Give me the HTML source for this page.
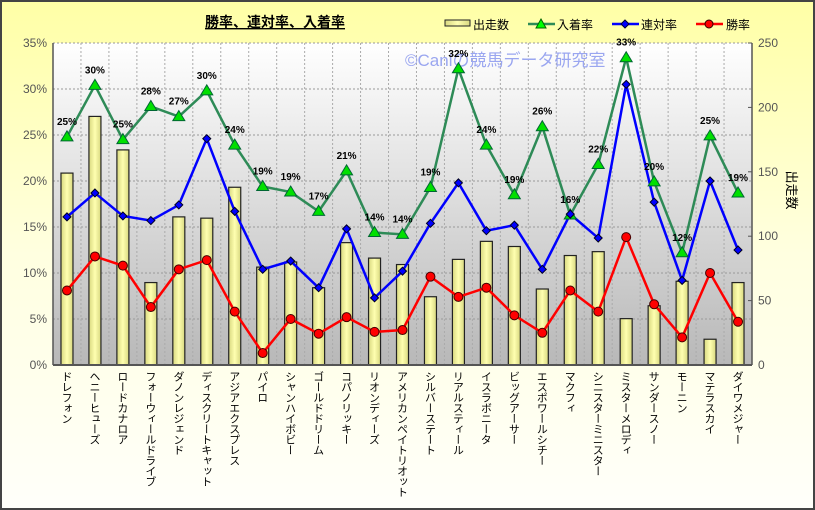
<!DOCTYPE html>
<html><head><meta charset="utf-8">
<style>
body{margin:0;width:815px;height:510px;overflow:hidden;position:relative;font-family:"Liberation Sans","Noto Sans CJK JP",sans-serif;}
svg text{font-family:"Liberation Sans","Noto Sans CJK JP",sans-serif;}
.cat{position:absolute;top:371px;writing-mode:vertical-rl;text-orientation:upright;font-size:11px;line-height:12px;letter-spacing:-0.5px;font-family:"Noto Sans CJK JP",sans-serif;color:#000;white-space:nowrap;}
</style></head>
<body>
<svg id="chart" width="815" height="510" xmlns="http://www.w3.org/2000/svg" style="position:absolute;left:0;top:0">
<defs>
<linearGradient id="bg" x1="0" y1="0" x2="0" y2="1"><stop offset="0" stop-color="#ffffa6"/><stop offset="0.5" stop-color="#ffffe0"/><stop offset="1" stop-color="#fffffa"/></linearGradient>
<linearGradient id="pl" x1="0" y1="0" x2="0" y2="1"><stop offset="0" stop-color="#ffffff"/><stop offset="1" stop-color="#b8b8b8"/></linearGradient>
<linearGradient id="bar" x1="0" y1="0" x2="1" y2="0"><stop offset="0" stop-color="#d8d880"/><stop offset="0.5" stop-color="#ffffb0"/><stop offset="1" stop-color="#d8d880"/></linearGradient>
</defs>
<rect x="1" y="1" width="813" height="508" fill="url(#bg)" stroke="#444" stroke-width="2"/>
<rect x="53" y="43" width="699" height="322" fill="url(#pl)"/>
<g id="grid"></g>
<text x="405" y="66" font-size="17" fill="#9aa6f0">©Caniの競馬データ研究室</text>
<g id="bars"></g><g id="lines"></g><g id="axes"></g>
<text x="275" y="27" font-size="14" font-weight="bold" text-anchor="middle" text-decoration="underline">勝率、連対率、入着率</text>
<g font-size="12">
<g><rect x="445" y="20" width="25" height="6" fill="url(#bar)" stroke="#222"/><text x="473" y="29">出走数</text></g>
<g><line x1="528" y1="24" x2="555" y2="24" stroke="#2e8b57" stroke-width="2.5"/><polygon points="541,19 546,28 536,28" fill="#0f0" stroke="#060"/><text x="557" y="29">入着率</text></g>
<g><line x1="612" y1="24" x2="639" y2="24" stroke="#00f" stroke-width="2.5"/><polygon points="625,20 629,24 625,28 621,24" fill="#00f" stroke="#003"/><text x="641" y="29">連対率</text></g>
<g><line x1="696" y1="24" x2="723" y2="24" stroke="#f00" stroke-width="2.5"/><circle cx="709" cy="24" r="4" fill="#f00" stroke="#300"/><text x="726" y="29">勝率</text></g>
</g>
<text transform="translate(787,190) rotate(90)" font-size="13" text-anchor="middle">出走数</text>
</svg>
<div id="cats"></div>
<script>
const categories=["ドレフォン","ヘニーヒューズ","ロードカナロア","フォーウィールドライブ","ダノンレジェンド","ディスクリートキャット","アジアエクスプレス","パイロ","シャンハイボビー","ゴールドドリーム","コパノリッキー","リオンディーズ","アメリカンペイトリオット","シルバーステート","リアルスティール","イスラボニータ","ビッグアーサー","エスポワールシチー","マクフィ","シニスターミニスター","ミスターメロディ","サンダースノー","モーニン","マテラスカイ","ダイワメジャー"];
const starts=[149,193,167,64,115,114,138,76,80,60,95,83,78,53,82,96,92,59,85,88,36,46,65,20,64];
const winRate=[8.1,11.8,10.8,6.3,10.4,11.4,5.8,1.3,5.0,3.4,5.2,3.6,3.8,9.6,7.4,8.4,5.4,3.5,8.1,5.8,13.9,6.6,3.0,10.0,4.7];
const top2Rate=[16.1,18.7,16.2,15.7,17.4,24.6,16.7,10.4,11.3,8.4,14.8,7.3,10.2,15.4,19.8,14.6,15.2,10.4,16.4,13.8,30.5,17.7,9.2,20.0,12.5];
const placeRate=[24.8,30.4,24.5,28.1,27.0,29.8,23.9,19.4,18.8,16.7,21.1,14.4,14.2,19.3,32.2,23.9,18.5,25.9,16.3,21.8,33.4,19.9,12.2,24.9,18.7];
const leftTicks=[0,5,10,15,20,25,30,35];
const rightTicks=[0,50,100,150,200,250];
const NS="http://www.w3.org/2000/svg";
const X0=53,X1=752,Y0=365,Y1=43;
const bw=(X1-X0)/categories.length;
const xc=i=>X0+bw*(i+0.5);
const yL=v=>Y0-(v/35)*(Y0-Y1);
const yR=v=>Y0-(v/250)*(Y0-Y1);
function mk(tag,attrs,parent){const e=document.createElementNS(NS,tag);for(const k in attrs)e.setAttribute(k,attrs[k]);parent.appendChild(e);return e;}
const grid=document.getElementById('grid'),bars=document.getElementById('bars'),lines=document.getElementById('lines'),axes=document.getElementById('axes'),cats=document.getElementById('cats');
leftTicks.forEach(t=>{if(t>0){const l=mk('line',{x1:X0,x2:X1,y1:yL(t),y2:yL(t),stroke:'#999','stroke-dasharray':'2,2'},grid);}
 const tx=mk('text',{x:X0-6,y:yL(t)+4,'font-size':12,fill:'#555','text-anchor':'end'},axes);tx.textContent=t+'%';});
rightTicks.forEach(t=>{const tx=mk('text',{x:X1+6,y:yR(t)+4,'font-size':12,fill:'#555'},axes);tx.textContent=t;
 mk('line',{x1:X1,x2:X1-4,y1:yR(t),y2:yR(t),stroke:'#555'},axes);});
categories.forEach((c,i)=>{if(i>0){const l=mk('line',{x1:X0+bw*i,x2:X0+bw*i,y1:Y1,y2:Y0,stroke:'#aaa','stroke-dasharray':'2,2'},grid);}
 const d=document.createElement('div');d.className='cat';d.style.left=(xc(i)-6)+'px';d.textContent=c;
 
 
 cats.appendChild(d);
 const b=mk('rect',{x:xc(i)-6,y:yR(starts[i]),width:12,height:Y0-yR(starts[i]),fill:'url(#bar)',stroke:'#222','stroke-width':1.2},bars);});
mk('line',{x1:X0,x2:X0,y1:Y1,y2:Y0,stroke:'#555','stroke-width':1.5},axes);
mk('line',{x1:X0,x2:X1,y1:Y0,y2:Y0,stroke:'#555','stroke-width':2},axes);
mk('line',{x1:X1,x2:X1,y1:Y1,y2:Y0,stroke:'#555','stroke-width':1.5},axes);
function series(vals,color,name){const p=mk('polyline',{points:vals.map((v,i)=>xc(i)+','+yL(v)).join(' '),fill:'none',stroke:color,'stroke-width':2.5},lines);}
series(placeRate,'#2e8b57','place-rate');series(top2Rate,'#0000ff','top2-rate');series(winRate,'#ff0000','win-rate');
placeRate.forEach((v,i)=>{const x=xc(i),y=yL(v);const m=mk('polygon',{points:`${x},${y-6} ${x+6},${y+4} ${x-6},${y+4}`,fill:'#00e000',stroke:'#063'},lines);
 const t=mk('text',{x:x,y:y-12,'font-size':10,'font-weight':'bold','text-anchor':'middle'},lines);t.textContent=Math.round(v)+'%';});
top2Rate.forEach((v,i)=>{const x=xc(i),y=yL(v);const m=mk('polygon',{points:`${x},${y-4} ${x+4},${y} ${x},${y+4} ${x-4},${y}`,fill:'#0000ff',stroke:'#002'},lines);});
winRate.forEach((v,i)=>{const m=mk('circle',{cx:xc(i),cy:yL(v),r:4.5,fill:'#ff0000',stroke:'#400'},lines);});
</script>
</body></html>
